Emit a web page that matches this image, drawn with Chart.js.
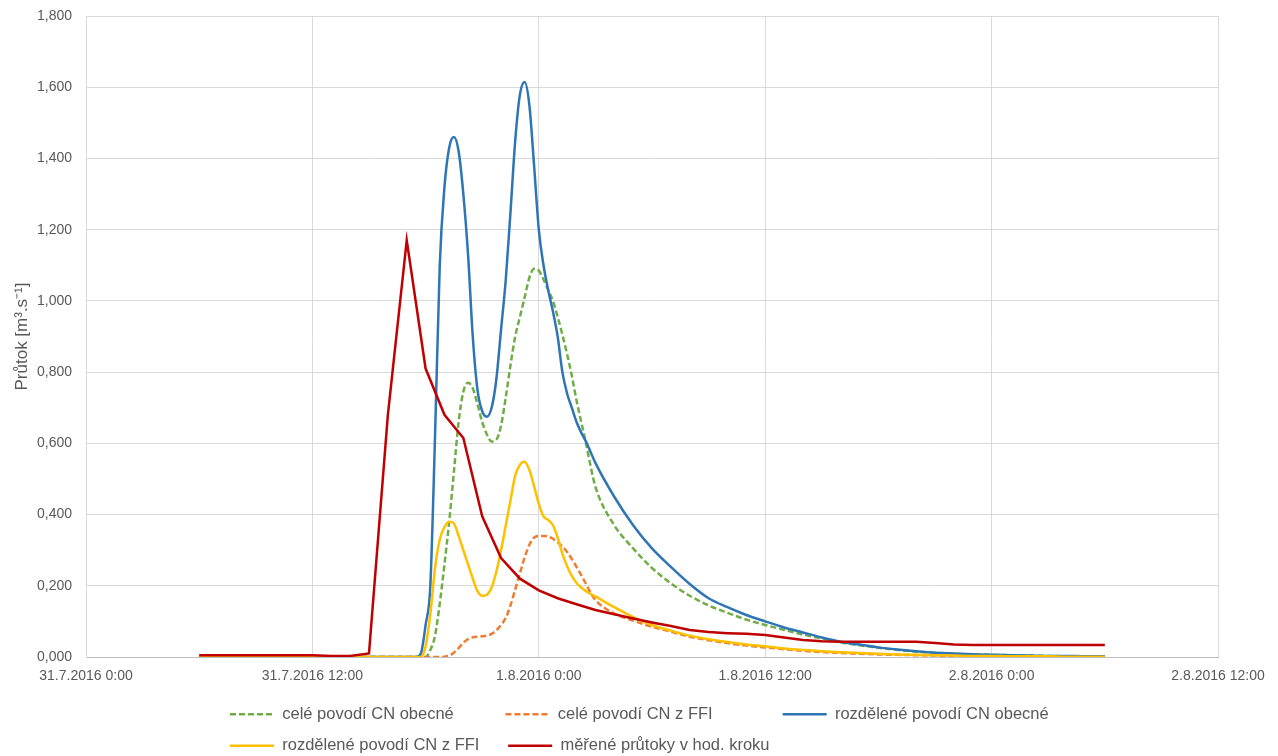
<!doctype html>
<html>
<head>
<meta charset="utf-8">
<title>Průtok</title>
<script src="https://cdn.jsdelivr.net/npm/chart.js@4.4.1/dist/chart.umd.min.js"></script>
<style>
  body { margin: 0; background: #fff; }
  #wrap { width: 1278px; height: 756px; }
</style>
</head>
<body>
<div id="wrap"><canvas id="canvas" width="1278" height="756"></canvas></div>
<script>
// hours counted from 31.7.2016 0:00
const xTickLabels = ['31.7.2016 0:00', '31.7.2016 12:00', '1.8.2016 0:00', '1.8.2016 12:00', '2.8.2016 0:00', '2.8.2016 12:00'];

const seriesNames = ['celé povodí CN obecné', 'celé povodí CN z FFI', 'rozdělené povodí CN obecné', 'rozdělené povodí CN z FFI', 'měřené průtoky v hod. kroku'];

// time steps of the model runs
const modelHours = [6, 7, 8, 9, 10, 11, 12, 13, 14, 15, 16, 17,
  17.5, 17.75, 18, 18.25, 18.5, 18.75, 19, 19.25, 19.5, 19.75, 20, 20.25, 20.5, 20.75,
  21, 21.25, 21.5, 21.75, 22, 22.25, 22.5, 22.75, 23, 23.25, 23.5, 23.75, 24, 24.25,
  24.5, 24.75, 25, 25.25, 25.5, 25.75, 26, 26.25, 26.5, 26.75, 27,
  28, 29, 30, 31, 32, 33, 34, 35, 36, 37, 38, 39, 40, 41, 42, 43, 44, 45, 46, 47, 48, 49, 50, 51, 52, 53, 54];

const celeObecne = [0, 0, 0, 0, 0, 0, 0, 0, 0, 0, 0, 0,
  0, 0, 0, 0.02, 0.06, 0.15, 0.26, 0.38, 0.52, 0.66, 0.745, 0.77, 0.755, 0.71,
  0.66, 0.625, 0.605, 0.61, 0.65, 0.73, 0.82, 0.9, 0.955, 1.01, 1.065, 1.09, 1.085, 1.06,
  1.03, 1.0, 0.955, 0.905, 0.85, 0.79, 0.72, 0.66, 0.6, 0.535, 0.478,
  0.37, 0.305, 0.25, 0.207, 0.172, 0.145, 0.124, 0.105, 0.09, 0.076, 0.063, 0.052, 0.041, 0.033, 0.026, 0.02, 0.015, 0.012, 0.009, 0.007, 0.006, 0.005, 0.004, 0.003, 0.002, 0.002, 0.002];

const celeFFI = [0, 0, 0, 0, 0, 0, 0, 0, 0, 0, 0, 0,
  0, 0, 0, 0, 0, 0, 0.001, 0.004, 0.012, 0.025, 0.04, 0.05, 0.055, 0.057,
  0.058, 0.06, 0.065, 0.075, 0.09, 0.11, 0.145, 0.19, 0.235, 0.28, 0.315, 0.335, 0.34, 0.34,
  0.338, 0.332, 0.322, 0.31, 0.295, 0.275, 0.253, 0.23, 0.205, 0.18, 0.16,
  0.122, 0.102, 0.085, 0.071, 0.057, 0.047, 0.039, 0.032, 0.027, 0.022, 0.017, 0.014, 0.011, 0.009, 0.007, 0.006, 0.005, 0.004, 0.003, 0.003, 0.002, 0.002, 0.002, 0.001, 0.001, 0.001, 0.001];

const rozdObecne = [0, 0, 0, 0, 0, 0, 0, 0, 0, 0, 0, 0,
  0, 0.01, 0.09, 0.2, 0.62, 1.1, 1.32, 1.43, 1.46, 1.42, 1.3, 1.13, 0.9, 0.75,
  0.69, 0.675, 0.7, 0.78, 0.92, 1.06, 1.25, 1.45, 1.58, 1.615, 1.55, 1.38, 1.2, 1.1,
  1.03, 0.97, 0.9, 0.8, 0.74, 0.7, 0.66, 0.63, 0.605, 0.575, 0.545,
  0.45, 0.37, 0.305, 0.253, 0.205, 0.165, 0.14, 0.118, 0.1, 0.083, 0.069, 0.055, 0.043, 0.035, 0.027, 0.021, 0.016, 0.012, 0.01, 0.008, 0.006, 0.005, 0.004, 0.003, 0.003, 0.002, 0.002];

const rozdFFI = [0, 0, 0, 0, 0, 0, 0, 0, 0, 0, 0, 0,
  0, 0, 0.03, 0.12, 0.25, 0.33, 0.365, 0.38, 0.375, 0.34, 0.3, 0.26, 0.22, 0.185,
  0.172, 0.175, 0.195, 0.24, 0.3, 0.37, 0.44, 0.51, 0.54, 0.548, 0.525, 0.48, 0.43, 0.395,
  0.385, 0.37, 0.335, 0.29, 0.255, 0.228, 0.208, 0.195, 0.185, 0.177, 0.17,
  0.14, 0.112, 0.09, 0.074, 0.06, 0.05, 0.042, 0.035, 0.03, 0.024, 0.02, 0.016, 0.013, 0.011, 0.009, 0.007, 0.006, 0.005, 0.004, 0.003, 0.003, 0.002, 0.002, 0.002, 0.001, 0.001, 0.001];

// measured flow, hourly
const measHours = [6, 7, 8, 9, 10, 11, 12, 13, 14, 15, 16, 17, 18, 19, 20, 21, 22, 23, 24, 25,
  26, 27, 28, 29, 30, 31, 32, 33, 34, 35, 36, 37, 38, 39, 40, 41, 42, 43, 44, 45,
  46, 47, 48, 49, 50, 51, 52, 53, 54];
const mereno = [0.005, 0.005, 0.005, 0.005, 0.005, 0.005, 0.005, 0.003, 0.003, 0.01, 0.68, 1.17, 0.81, 0.68, 0.615, 0.395, 0.278, 0.22, 0.187, 0.165,
  0.148, 0.132, 0.12, 0.108, 0.097, 0.087, 0.076, 0.07, 0.067, 0.065, 0.062, 0.055, 0.048, 0.044, 0.043, 0.043, 0.043, 0.043, 0.043, 0.039,
  0.035, 0.034, 0.034, 0.034, 0.034, 0.034, 0.034, 0.034, 0.034];

const FONT = '"Liberation Sans", Arial, sans-serif';
const LEGEND_SIZE = 16.5;

function points(hours, values) {
  return hours.map(function (h, i) { return { x: h, y: values[i] }; });
}

function lineSet(i, hours, values, color, dashed, order) {
  return {
    label: seriesNames[i],
    data: points(hours, values),
    borderColor: color,
    backgroundColor: color,
    borderWidth: 2.5,
    borderDash: dashed ? [6, 3] : [],
    pointRadius: 0,
    fill: false,
    order: order,
    tension: 0,
    cubicInterpolationMode: hours === modelHours ? 'monotone' : 'default'
  };
}

// Excel-like legend: fixed columns, two rows
const legendPlace = {
  id: 'legendPlace',
  beforeDraw(chart) {
    chart.legend.left = 215;
    chart.legend.right = 1100;
  }
};

const ctx = document.getElementById('canvas').getContext('2d');
new Chart(ctx, {
  type: 'line',
  data: {
    datasets: [
      lineSet(0, modelHours, celeObecne, '#70ad47', true, 5),
      lineSet(1, modelHours, celeFFI, '#ed7d31', true, 4),
      lineSet(2, modelHours, rozdObecne, '#2e75b6', false, 3),
      lineSet(3, modelHours, rozdFFI, '#ffc000', false, 2),
      lineSet(4, measHours, mereno, '#c00000', false, 1)
    ]
  },
  plugins: [legendPlace],
  options: {
    responsive: false,
    animation: false,
    layout: { padding: { top: 16, right: 60, left: 0, bottom: 0 } },
    plugins: {
      tooltip: { enabled: false },
      legend: {
        position: 'bottom',
        align: 'start',
        maxHeight: 65,
        labels: {
          usePointStyle: true,
          pointStyle: 'line',
          pointStyleWidth: 44,
          padding: 15,
          color: '#595959',
          font: { family: FONT, size: LEGEND_SIZE },
          generateLabels(chart) {
            const items = Chart.defaults.plugins.legend.labels.generateLabels(chart);
            items.sort(function (a, b) { return a.datasetIndex - b.datasetIndex; });
            const c = chart.ctx;
            c.save();
            c.font = LEGEND_SIZE + 'px ' + FONT;
            items.forEach(function (it) {
              it.lineDash = chart.data.datasets[it.datasetIndex].borderDash;
              while (c.measureText(it.text).width < 207) it.text += '\u00a0';
            });
            c.restore();
            return items;
          }
        }
      }
    },
    scales: {
      x: {
        type: 'linear',
        min: 0,
        max: 60,
        afterFit(scale) { scale.height = 34; },
        grid: { color: '#d9d9d9', drawTicks: false },
        border: { color: '#bfbfbf' },
        ticks: {
          stepSize: 12,
          autoSkip: false,
          maxRotation: 0,
          padding: 11,
          color: '#595959',
          font: { family: FONT, size: 14 },
          callback: function (v) { return xTickLabels[Math.round(v / 12)]; }
        }
      },
      y: {
        min: 0,
        max: 1.8,
        afterFit(scale) {
          scale.width = 86;
          scale.paddingTop = 0;
          scale.paddingBottom = 0;
        },
        grid: { color: '#d9d9d9', drawTicks: false },
        border: { color: '#d9d9d9' },
        title: {
          display: true,
          text: 'Průtok [m³.s⁻¹]',
          color: '#595959',
          font: { family: FONT, size: 17 },
          padding: { top: 12, bottom: 0 }
        },
        ticks: {
          stepSize: 0.2,
          padding: 14,
          color: '#595959',
          font: { family: FONT, size: 14 },
          callback: function (v) { return v.toFixed(3).replace('.', ','); }
        }
      }
    }
  }
});
</script>
</body>
</html>
